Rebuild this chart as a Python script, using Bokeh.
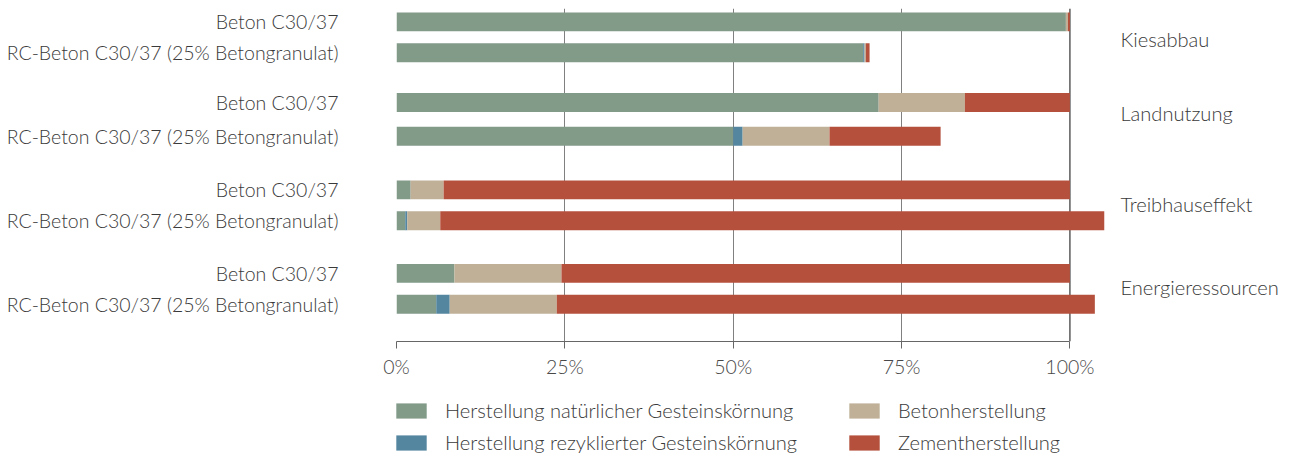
from bokeh.plotting import figure
from bokeh.models import (ColumnDataSource, Range1d, FixedTicker, Span, Legend, LegendItem)
from bokeh.layouts import column
from bokeh.core.properties import value
from bokeh.embed import file_html
from bokeh.resources import INLINE

# ---------------- data ----------------
groups = ["Kiesabbau", "Landnutzung", "Treibhauseffekt", "Energieressourcen"]
variants = ["Beton C30/37", "RC-Beton C30/37 (25% Betongranulat)"]
series = ["Herstellung natürlicher Gesteinskörnung",
          "Herstellung rezyklierter Gesteinskörnung",
          "Betonherstellung",
          "Zementherstellung"]
# values in % (order: Kies Beton, Kies RC, Land Beton, Land RC, THG Beton, THG RC, Energie Beton, Energie RC)
natuerlich = [99.4, 69.3, 71.6, 50.0, 2.1, 1.3, 8.6, 5.9]
rezykliert = [0.0, 0.2, 0.0, 1.4, 0.0, 0.3, 0.0, 2.0]
beton = [0.3, 0.2, 12.8, 12.9, 4.9, 4.9, 15.9, 15.9]
zement = [0.3, 0.55, 15.6, 16.5, 93.0, 98.6, 75.5, 79.9]
x_ticks = [0, 25, 50, 75, 100]
x_tick_labels = ["0%", "25%", "50%", "75%", "100%"]

# ---------------- layout ----------------
colors = ["#829a88", "#5486a0", "#bfb097", "#b4503c"]
bar_y = [13, 44, 94, 128, 182, 213, 266, 297]      # bar centres (px units)
group_label_y = [30, 105, 196, 280]
FONT = "Lato Light, Lato"
FS = "19.5px"
FS2 = "20.1px"
TXT = "#3a3a3a"
stackers = ["nat", "rez", "bet", "zem"]

labels = [variants[i % 2] for i in range(8)]
src = ColumnDataSource(dict(y=bar_y, nat=natuerlich, rez=rezykliert, bet=beton, zem=zement))

p = figure(width=1293, height=380, output_backend="svg", toolbar_location=None,
           x_range=Range1d(0, 133.2), y_range=Range1d(334.5, -0.5),
           min_border_left=396, min_border_right=0, min_border_top=8, min_border_bottom=0)
p.outline_line_color = None
p.background_fill_color = None
p.border_fill_color = None

p.hbar_stack(stackers, y="y", height=19, color=colors, source=src, line_width=0)

# grid
p.ygrid.visible = False
p.xgrid.ticker = FixedTicker(ticks=[0, 25, 50, 75])
p.xgrid.grid_line_color = "#808080"
p.xgrid.grid_line_width = 1
p.add_layout(Span(location=100, dimension="height", line_color="#333333", line_width=1.2, level="underlay"))

# x axis
xa = p.xaxis[0]
xa.ticker = FixedTicker(ticks=x_ticks)
xa.major_label_overrides = {t: l for t, l in zip(x_ticks, x_tick_labels)}
xa.bounds = (0, 100)
xa.axis_line_color = "#666666"
xa.major_tick_line_color = "#666666"
xa.major_tick_out = 7
xa.major_tick_in = 0
xa.minor_tick_line_color = None
xa.major_label_standoff = 6
xa.major_label_text_font = FONT
xa.major_label_text_font_size = FS
xa.major_label_text_color = "#484848"

# y axis
ya = p.yaxis[0]
ya.ticker = FixedTicker(ticks=bar_y)
ya.major_label_overrides = {y: l for y, l in zip(bar_y, labels)}
ya.axis_line_color = None
ya.major_tick_line_color = None
ya.minor_tick_line_color = None
ya.major_label_standoff = 52
ya.major_label_text_font = FONT
ya.major_label_text_font_size = FS
ya.major_label_text_color = TXT

# group labels on the right
p.text(x=[107.5] * 4, y=group_label_y, text=groups, text_font=value(FONT),
       text_font_size=FS2, text_color=TXT, text_baseline="middle", text_align="left")

# legend figure (its frame is aligned with the main frame by the column layout)
pl = figure(width=1293, height=75, output_backend="svg", toolbar_location=None,
            x_range=Range1d(-2, -1), y_range=Range1d(-2, -1),
            min_border_left=0, min_border_right=0, min_border_top=0, min_border_bottom=0)
pl.axis.visible = False
pl.grid.visible = False
pl.outline_line_color = None
pl.background_fill_color = None
pl.border_fill_color = None
# same bars, entirely outside this figure's ranges: used only as legend swatches
swatches = pl.hbar_stack(stackers, y="y", height=19, color=colors, source=src, line_width=0)

def make_legend(idx, x):
    return Legend(items=[LegendItem(label=series[i], renderers=[swatches[i]]) for i in idx],
                  location=(x, 1), orientation="vertical",
                  glyph_width=38, glyph_height=19, label_standoff=15, spacing=8,
                  label_height=20, padding=0, margin=0,
                  border_line_color=None, background_fill_alpha=0,
                  label_text_font=FONT, label_text_font_size=FS2, label_text_color=TXT)

pl.add_layout(make_legend([0, 1], -4), "center")
pl.add_layout(make_legend([2, 3], 449), "center")

open("out.html", "w").write(file_html(column(p, pl, spacing=0), INLINE))
